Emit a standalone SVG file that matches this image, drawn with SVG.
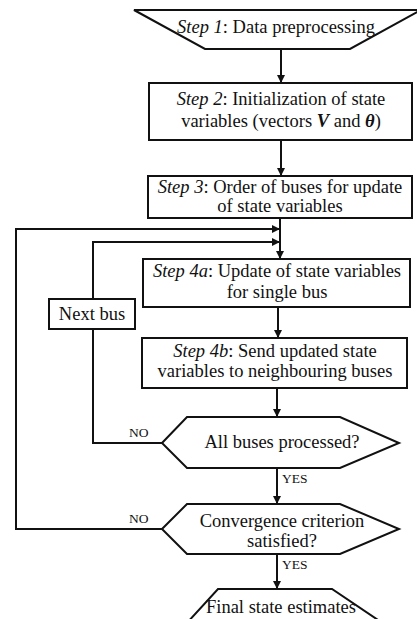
<svg xmlns="http://www.w3.org/2000/svg" width="417" height="619" viewBox="0 0 417 619">
<style>
.s{fill:#fff;stroke:#111;stroke-width:2}
.t{font-family:"Liberation Serif","Times New Roman",serif;font-size:18.5px;fill:#111;text-anchor:middle}
.l{font-family:"Liberation Serif","Times New Roman",serif;font-size:13.5px;fill:#111}
.c{fill:none;stroke:#111;stroke-width:2}
</style>
<defs>
<marker id="a" viewBox="0 0 8 8" refX="8" refY="4" markerWidth="4" markerHeight="4" markerUnits="strokeWidth" orient="auto">
<path d="M0,0 L8,4 L0,8 Z" fill="#111"/>
</marker>
</defs>
<rect width="417" height="619" fill="#fff"/>
<g id="connectors">
<line class="c" x1="281" y1="49" x2="281" y2="83" marker-end="url(#a)"/>
<line class="c" x1="281" y1="140" x2="281" y2="176" marker-end="url(#a)"/>
<line class="c" x1="280" y1="218" x2="280" y2="259" marker-end="url(#a)"/>
<polyline class="c" points="162,529 16,529 16,229 280,229" marker-end="url(#a)"/>
<polyline class="c" points="162,443 93,443 93,242 280,242" marker-end="url(#a)"/>
<line class="c" x1="278" y1="307" x2="278" y2="338" marker-end="url(#a)"/>
<line class="c" x1="277" y1="388" x2="277" y2="417" marker-end="url(#a)"/>
<line class="c" x1="277" y1="468" x2="277" y2="504" marker-end="url(#a)"/>
<line class="c" x1="277" y1="554" x2="277" y2="589" marker-end="url(#a)"/>
<text class="l" x="129" y="437">NO</text>
<text class="l" x="129" y="523">NO</text>
<text class="l" x="282" y="483">YES</text>
<text class="l" x="282" y="569">YES</text>
</g>
<g id="step1">
<polygon class="s" points="134,10 421,10 350,49 205,49"/>
<text class="t" x="276" y="33"><tspan font-style="italic">Step 1</tspan>: Data preprocessing</text>
</g>
<g id="step2">
<rect class="s" x="149" y="83" width="263" height="57"/>
<text class="t" x="281" y="105"><tspan font-style="italic">Step 2</tspan>: Initialization of state</text>
<text class="t" x="281" y="127">variables (vectors <tspan font-style="italic" font-weight="bold">V</tspan> and <tspan font-style="italic" font-weight="bold">θ</tspan>)</text>
</g>
<g id="step3">
<rect class="s" x="148" y="176" width="264" height="42"/>
<text class="t" x="280" y="193"><tspan font-style="italic">Step 3</tspan>: Order of buses for update</text>
<text class="t" x="280" y="212">of state variables</text>
</g>
<g id="step4a">
<rect class="s" x="143" y="259" width="267" height="48"/>
<text class="t" x="277" y="277"><tspan font-style="italic">Step 4a</tspan>: Update of state variables</text>
<text class="t" x="277" y="298">for single bus</text>
</g>
<g id="nextbus">
<rect class="s" x="49" y="299" width="86" height="30"/>
<text class="t" x="92" y="320">Next bus</text>
</g>
<g id="step4b">
<rect class="s" x="142" y="338" width="265" height="50"/>
<text class="t" x="275" y="357"><tspan font-style="italic">Step 4b</tspan>: Send updated state</text>
<text class="t" x="275" y="377">variables to neighbouring buses</text>
</g>
<g id="decision1">
<polygon class="s" points="162,443 187,417 340,417 399,443 340,468 187,468"/>
<text class="t" x="282" y="448">All buses processed?</text>
</g>
<g id="decision2">
<polygon class="s" points="162,529 187,504 340,504 399,529 340,554 187,554"/>
<text class="t" x="282" y="527">Convergence criterion</text>
<text class="t" x="282" y="547">satisfied?</text>
</g>
<g id="final">
<polygon class="s" points="218,589 332,589 384,624 186,624"/>
<text class="t" x="281" y="613">Final state estimates</text>
</g>
</svg>
